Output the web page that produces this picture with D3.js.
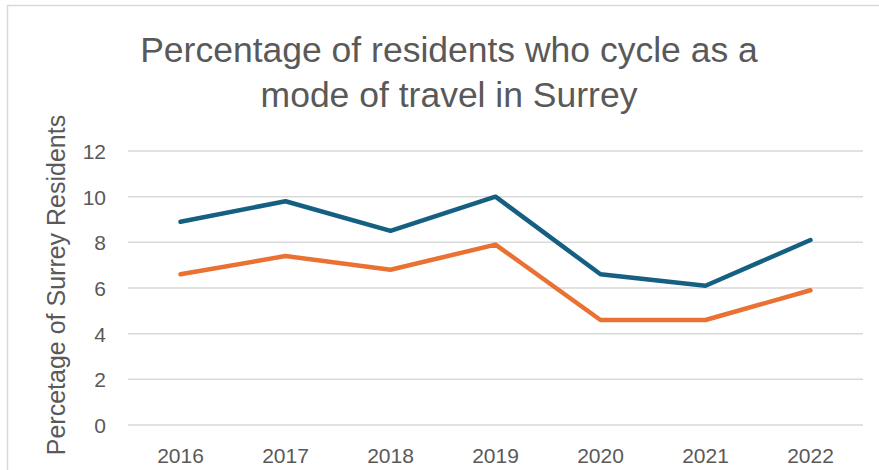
<!DOCTYPE html>
<html>
<head>
<meta charset="utf-8">
<script src="https://cdn.jsdelivr.net/npm/d3@7"></script>
<style>
  body { margin: 0; background: #fff; }
  text { font-family: "Liberation Sans", Arial, sans-serif; fill: #595959; }
</style>
</head>
<body>
<div id="chart"></div>
<script>
var years = ["2016", "2017", "2018", "2019", "2020", "2021", "2022"];
var seriesBlue = [8.9, 9.8, 8.5, 10.0, 6.6, 6.1, 8.1];
var seriesOrange = [6.6, 7.4, 6.8, 7.9, 4.6, 4.6, 5.9];
var yTicks = [0, 2, 4, 6, 8, 10, 12];
var titleLines = ["Percentage of residents who cycle as a", "mode of travel in Surrey"];
var yLabel = "Percetage of Surrey Residents";

var width = 879, height = 470;
var margin = {top: 151, right: 16, bottom: 45, left: 128};

var svg = d3.select("#chart").append("svg")
    .attr("width", width)
    .attr("height", height);

// chart area border
svg.append("rect")
    .attr("x", 7.5).attr("y", 5.5)
    .attr("width", width + 10).attr("height", height + 10)
    .attr("fill", "none")
    .attr("stroke", "#d9d9d9")
    .attr("stroke-width", 1.5);

var x = d3.scaleBand()
    .domain(years)
    .range([margin.left, width - margin.right]);

var y = d3.scaleLinear()
    .domain([0, 12])
    .range([height - margin.bottom, margin.top]);

// gridlines
svg.append("g").selectAll("line")
    .data(yTicks)
    .enter().append("line")
    .attr("x1", margin.left)
    .attr("x2", width - margin.right)
    .attr("y1", function(d) { return y(d); })
    .attr("y2", function(d) { return y(d); })
    .attr("stroke", "#d9d9d9")
    .attr("stroke-width", 1.5);

var yAxis = d3.axisLeft(y).tickValues(yTicks).tickSize(0).tickPadding(0);
svg.append("g")
    .attr("transform", "translate(106,0)")
    .call(yAxis)
    .call(function(g) { g.select(".domain").remove(); })
    .selectAll("text")
    .style("font-family", "Liberation Sans, Arial, sans-serif")
    .style("font-size", "21px")
    .style("fill", "#595959")
    .attr("dy", "0.36em");

var xAxis = d3.axisBottom(x).tickSize(0).tickPadding(0);
svg.append("g")
    .attr("transform", "translate(0," + (height - margin.bottom) + ")")
    .call(xAxis)
    .call(function(g) { g.select(".domain").remove(); })
    .selectAll("text")
    .style("font-family", "Liberation Sans, Arial, sans-serif")
    .style("font-size", "21px")
    .style("fill", "#595959")
    .attr("y", 38)
    .attr("dy", 0);

var line = d3.line()
    .x(function(d, i) { return x(years[i]) + x.bandwidth() / 2; })
    .y(function(d) { return y(d); });

[[seriesBlue, "#156082"], [seriesOrange, "#e97132"]].forEach(function(s) {
    svg.append("path")
        .datum(s[0])
        .attr("d", line)
        .attr("fill", "none")
        .attr("stroke", s[1])
        .attr("stroke-width", 4.5)
        .attr("stroke-linecap", "round")
        .attr("stroke-linejoin", "round");
});

svg.append("g").selectAll("text")
    .data(titleLines)
    .enter().append("text")
    .attr("x", 449)
    .attr("y", function(d, i) { return 62 + i * 45; })
    .attr("text-anchor", "middle")
    .style("font-size", "35.5px")
    .text(function(d) { return d; });

svg.append("text")
    .attr("transform", "translate(65,285) rotate(-90)")
    .attr("text-anchor", "middle")
    .style("font-size", "25px")
    .text(yLabel);
</script>
</body>
</html>
